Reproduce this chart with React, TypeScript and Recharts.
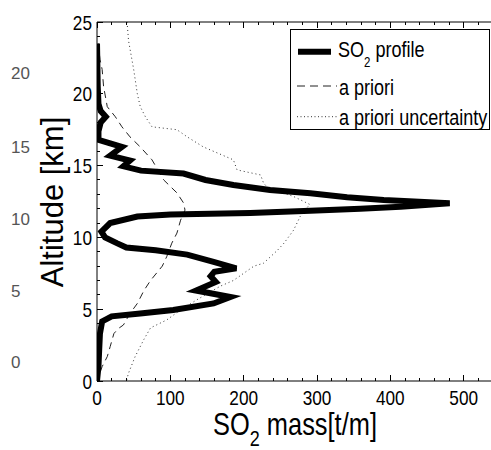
import React from 'react';
import { ScatterChart, Scatter, XAxis, YAxis, Legend } from 'recharts';

// SO2 profile (thick black)
const profileAltitude = [23.5, 22, 20.5, 19.3, 18.8, 18.4, 18.0, 17.4, 16.8, 16.55, 16.3, 15.7, 15.35, 14.95, 14.65, 14.45, 14.0, 13.65, 13.3, 13.07, 12.8, 12.6, 12.37, 12.14, 12.0, 11.86, 11.7, 11.6, 11.45, 11.0, 10.4, 10.0, 9.6, 9.3, 9.1, 8.8, 8.3, 7.85, 7.6, 7.3, 6.9, 6.3, 5.85, 5.4, 4.95, 4.7, 4.5, 4.15, 3.3, 2.2, 1.0, 0];
const profileMass = [0, 0.5, 1, 2, 5, 12, 5, 2, 2, 18, 34, 18, 45, 36, 60, 118, 148, 186, 236, 291, 341, 391, 481, 414, 359, 291, 209, 100, 55, 18, 6, 11, 27, 40, 80, 123, 159, 190, 160, 155, 162, 135, 182, 159, 104, 59, 20, 7, 4, 3, 2, 0];

// a priori (dashed)
const aprioriAltitude = [23.5, 22.4, 21.7, 20.5, 19.1, 18.4, 17.7, 17.0, 16.3, 15.4, 14.0, 13.1, 12.4, 11.9, 11.2, 10.3, 9.6, 8.65, 8.0, 7.0, 6.3, 5.4, 4.7, 3.9, 3.65, 3.3, 2.4, 1.7, 1.0, 0.3, 0];
const aprioriMass = [2, 4, 7, 9, 14, 25, 34, 45, 59, 75, 91, 109, 118, 120, 114, 109, 102, 95, 89, 73, 64, 55, 45, 36, 29, 23, 18, 14, 7, 2, 1];

// a priori uncertainty (dotted)
const uncertaintyAltitude = [25, 23.7, 21.7, 20.0, 19.1, 18.4, 17.7, 17.5, 17.0, 16.3, 15.4, 14.7, 14.35, 13.8, 13.5, 12.85, 12.3, 11.45, 10.5, 9.6, 9.1, 8.2, 8.0, 7.0, 6.6, 5.65, 4.95, 4.25, 3.7, 2.9, 1.7, 0.55, 0];
const uncertaintyMass = [41, 43, 50, 55, 59, 66, 75, 109, 123, 145, 186, 191, 223, 227, 232, 268, 290, 277, 268, 255, 246, 227, 214, 186, 168, 136, 114, 95, 73, 64, 52, 43, 40];

const xTicks = [0, 20, 40, 60, 80, 100, 120, 140, 160, 180, 200, 220, 240, 260, 280, 300, 320, 340, 360, 380, 400, 420, 440, 460, 480, 500, 520, 540];
const xMajorTicks = [0, 100, 200, 300, 400, 500];
const yTicks = [0, 1, 2, 3, 4, 5, 6, 7, 8, 9, 10, 11, 12, 13, 14, 15, 16, 17, 18, 19, 20, 21, 22, 23, 24, 25];
const yMajorTicks = [0, 5, 10, 15, 20, 25];
const greyLabels = ['20', '15', '10', '5', '0'];
const greyLabelBaselines = [79, 153, 225, 297, 368];

const legendLabels = ['profile', 'a priori', 'a priori uncertainty'];

const toPoints = (alt: number[], mass: number[]) => alt.map((a, i) => ({ alt: a, mass: mass[i] }));
const profileData = toPoints(profileAltitude, profileMass);
const aprioriData = toPoints(aprioriAltitude, aprioriMass);
const uncertaintyData = toPoints(uncertaintyAltitude, uncertaintyMass);

const SANS = '"Liberation Sans", Arial, sans-serif';
const SQUEEZE = 0.82;

const NarrowText = ({ x, y, size, anchor = 'start', children }: any) => (
  <text
    transform={`translate(${x},${y}) scale(${SQUEEZE},1)`}
    x={0}
    y={0}
    textAnchor={anchor}
    fontFamily={SANS}
    fontSize={size}
    fill="#000"
  >
    {children}
  </text>
);

const BottomTick = (props: any) => {
  const { x, y, payload } = props;
  const v = payload.value;
  const major = xMajorTicks.includes(v);
  return (
    <g>
      <line x1={x} x2={x} y1={y} y2={y - (major ? 6 : 3)} stroke="#000" shapeRendering="crispEdges" />
      {major && (
        <NarrowText x={x} y={y + 24} size={21} anchor="middle">
          {v}
        </NarrowText>
      )}
    </g>
  );
};

const TopTick = (props: any) => {
  const { x, y, payload } = props;
  const major = xMajorTicks.includes(payload.value);
  return <line x1={x} x2={x} y1={y} y2={y + (major ? 6 : 3)} stroke="#000" shapeRendering="crispEdges" />;
};

const LeftTick = (props: any) => {
  const { x, y, payload } = props;
  const v = payload.value;
  const major = yMajorTicks.includes(v);
  return (
    <g>
      <line x1={x} x2={x + (major ? 6 : 3)} y1={y} y2={y} stroke="#000" shapeRendering="crispEdges" />
      {major && (
        <NarrowText x={x - 5} y={y + 7.5} size={21} anchor="end">
          {v}
        </NarrowText>
      )}
    </g>
  );
};

const LegendBox = () => (
  <svg width={200} height={101} style={{ display: 'block' }}>
    <rect x={0.5} y={0.5} width={199} height={100} fill="#fff" stroke="#000" />
    <line x1={8} x2={41} y1={22.7} y2={22.7} stroke="#000" strokeWidth={6} />
    <NarrowText x={48} y={27.7} size={22}>
      SO<tspan dy={10} fontSize={14}>2</tspan>
      <tspan dy={-10}> {legendLabels[0]}</tspan>
    </NarrowText>
    <line x1={7} x2={47} y1={57} y2={57} stroke="#222" strokeWidth={1} strokeDasharray="8 5" />
    <NarrowText x={49} y={66} size={22}>
      {legendLabels[1]}
    </NarrowText>
    <line x1={7} x2={47} y1={87.7} y2={87.7} stroke="#333" strokeWidth={1} strokeDasharray="1 2.5" />
    <NarrowText x={49} y={96} size={22}>
      {legendLabels[2]}
    </NarrowText>
  </svg>
);

const NoShape = () => <g />;

export default function App() {
  return (
    <div style={{ position: 'absolute', left: 0, top: 0, width: 491, height: 450, overflow: 'hidden', background: '#fff' }}>
      <ScatterChart width={500} height={450} margin={{ top: 21, right: 7, bottom: 68, left: 96 }}>
        <XAxis
          xAxisId={0}
          type="number"
          dataKey="mass"
          domain={[0, 540]}
          ticks={xTicks}
          interval={0}
          orientation="bottom"
          height={1}
          tickSize={0}
          tickMargin={0}
          tickLine={false}
          axisLine={{ stroke: '#000', strokeWidth: 1 }}
          tick={<BottomTick />}
          allowDataOverflow
        />
        <XAxis
          xAxisId="top"
          type="number"
          dataKey="mass"
          domain={[0, 540]}
          ticks={xTicks}
          interval={0}
          orientation="top"
          height={1}
          tickSize={0}
          tickMargin={0}
          tickLine={false}
          axisLine={{ stroke: '#000', strokeWidth: 1 }}
          tick={<TopTick />}
          allowDataOverflow
        />
        <YAxis
          yAxisId={0}
          type="number"
          dataKey="alt"
          domain={[0, 25]}
          ticks={yTicks}
          interval={0}
          orientation="left"
          width={1}
          tickSize={0}
          tickMargin={0}
          tickLine={false}
          axisLine={{ stroke: '#000', strokeWidth: 1 }}
          tick={<LeftTick />}
          allowDataOverflow
        />
        <Scatter
          data={uncertaintyData}
          fill="#333"
          line={{ stroke: '#333', strokeWidth: 1, strokeDasharray: '1 3' }}
          shape={<NoShape />}
          isAnimationActive={false}
        />
        <Scatter
          data={aprioriData}
          fill="#222"
          line={{ stroke: '#222', strokeWidth: 1, strokeDasharray: '7 5' }}
          shape={<NoShape />}
          isAnimationActive={false}
        />
        <Scatter
          data={profileData}
          fill="#000"
          line={{ stroke: '#000', strokeWidth: 6 }}
          shape={<NoShape />}
          isAnimationActive={false}
        />
        <Legend
          layout="vertical"
          align="center"
          verticalAlign="middle"
          wrapperStyle={{ left: 290, top: 29, width: 200, height: 101 }}
          content={() => <LegendBox />}
        />
        <NarrowText x={295} y={435} size={31} anchor="middle">
          SO<tspan dy={11} fontSize={22}>2</tspan>
          <tspan dy={-11}> mass[t/m]</tspan>
        </NarrowText>
        <text x={63} y={202} transform="rotate(-90, 63, 202)" textAnchor="middle" fontFamily={SANS} fontSize={31} fill="#000">
          Altitude [km]
        </text>
        {greyLabels.map((label, i) => (
          <text key={label} x={11} y={greyLabelBaselines[i]} fontFamily={SANS} fontSize={17} fill="#555">
            {label}
          </text>
        ))}
      </ScatterChart>
    </div>
  );
}
